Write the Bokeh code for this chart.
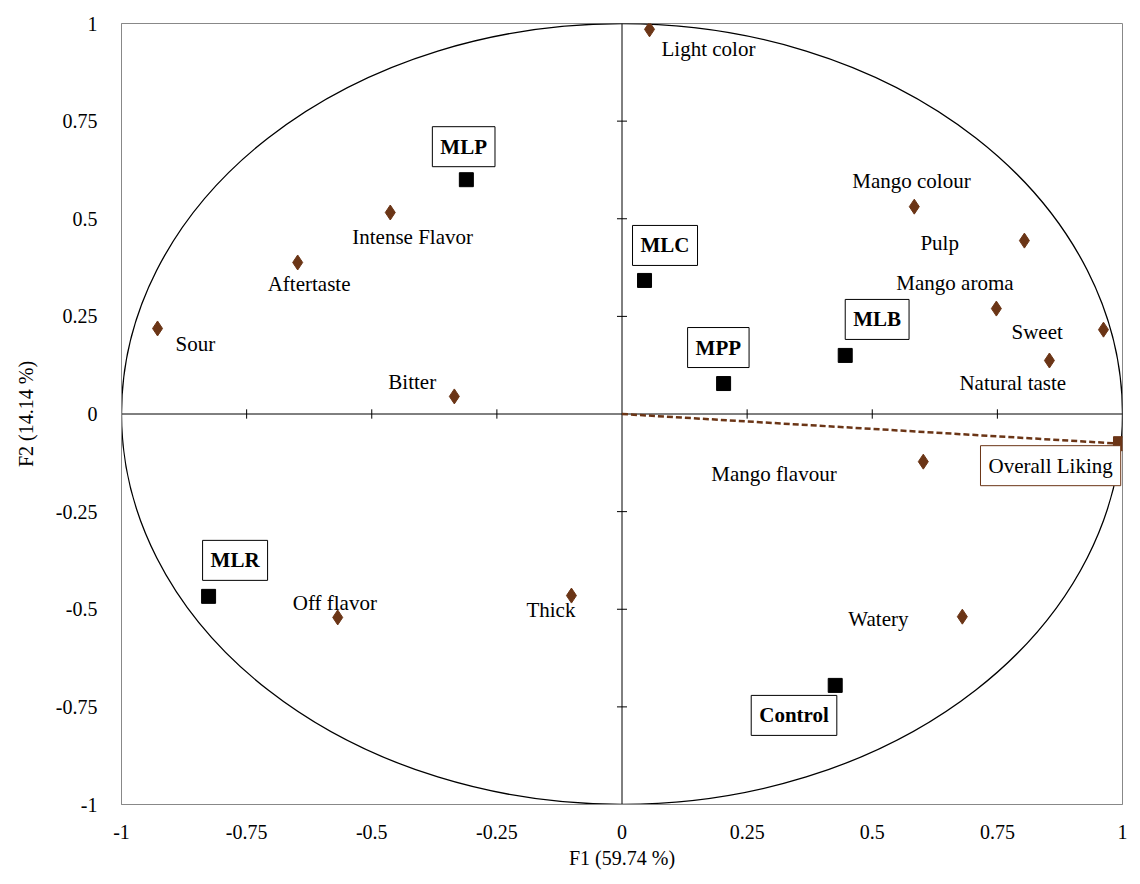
from bokeh.plotting import figure
from bokeh.models import Label, Range1d, FixedTicker
from bokeh.embed import file_html
from bokeh.resources import INLINE

# attribute loadings
attr_names = ["Light color", "Mango colour", "Pulp", "Mango aroma", "Sweet", "Natural taste",
              "Mango flavour", "Watery", "Thick", "Off flavor", "Bitter", "Sour",
              "Aftertaste", "Intense Flavor"]
attr_x = [0.055, 0.584, 0.804, 0.748, 0.962, 0.854, 0.602, 0.680, -0.101, -0.568, -0.335, -0.928, -0.648, -0.463]
attr_y = [0.985, 0.531, 0.444, 0.270, 0.216, 0.137, -0.122, -0.519, -0.465, -0.521, 0.045, 0.219, 0.388, 0.516]
# label offsets (px)
attr_dx = [12, -62, -104, -100, -92, -90, -212, -114, -45, -45, -66, 18, -30, -38]
attr_dy = [-32, 14, -14, 14, -14, -34, -24, -14, -26, 2, 2, -28, -34, -36]

liking_x = [0.996]
liking_y = [-0.076]

prod_names = ["MLP", "MLC", "MPP", "MLB", "Control", "MLR"]
prod_x = [-0.311, 0.045, 0.203, 0.446, 0.426, -0.826]
prod_y = [0.600, 0.342, 0.078, 0.150, -0.695, -0.467]
prod_dx = [-34, -12, -36, 0, -84, -6]
prod_dy = [13, 15, 16, 16, -50, 16]

ticks = [-1, -0.75, -0.5, -0.25, 0, 0.25, 0.5, 0.75, 1]
tick_labels = {t: ("%g" % t) for t in ticks}

brown = "#6B3516"
font = "Liberation Serif"

p = figure(width=1132, height=876, output_backend="svg", toolbar_location=None,
           x_range=Range1d(-1, 1), y_range=Range1d(-1, 1),
           min_border_left=121, min_border_right=10, min_border_top=23, min_border_bottom=72)
p.grid.visible = False
p.outline_line_color = "#888888"
for ax in (p.xaxis, p.yaxis):
    ax.ticker = FixedTicker(ticks=ticks)
    ax.major_label_overrides = tick_labels
    ax.major_label_text_font = font
    ax.major_label_text_font_size = "20px"
    ax.major_label_text_color = "black"
    ax.axis_label_text_font = font
    ax.axis_label_text_font_size = "20px"
    ax.axis_label_text_font_style = "normal"
    ax.axis_label_text_color = "black"
    ax.axis_line_color = "#888888"
    ax.major_tick_line_color = None
    ax.minor_tick_line_color = None
p.xaxis.axis_label = "F1 (59.74 %)"
p.yaxis.axis_label = "F2 (14.14 %)"
p.xaxis.major_label_standoff = 14
p.yaxis.major_label_standoff = 18
p.yaxis.axis_label_standoff = 16

# circle of correlations
p.ellipse(x=0, y=0, width=2, height=2, fill_color=None, line_color="black", line_width=1.3)
# central axes with ticks
p.segment(x0=[-1, 0], y0=[0, -1], x1=[1, 0], y1=[0, 1], line_color="black", line_width=1)
inner = [t for t in ticks if t not in (-1, 0, 1)]
p.segment(x0=inner, y0=[-0.012] * len(inner), x1=inner, y1=[0.012] * len(inner), line_color="black")
p.segment(x0=[-0.01] * len(inner), y0=inner, x1=[0.01] * len(inner), y1=inner, line_color="black")

p.line([0, liking_x[0]], [0, liking_y[0]], line_color=brown, line_dash="6 3", line_width=2.5)

p.scatter(attr_x, attr_y, marker="diamond", size=15, color=brown)
p.scatter(liking_x, liking_y, marker="square", size=14, color=brown)
p.scatter(prod_x, prod_y, marker="square", size=14, color="black")

for n, x, y, dx, dy in zip(attr_names, attr_x, attr_y, attr_dx, attr_dy):
    p.add_layout(Label(x=x, y=y, x_offset=dx, y_offset=dy, text=n, text_font=font,
                       text_font_size="21px", text_color="black"))

p.add_layout(Label(x=liking_x[0], y=liking_y[0], x_offset=-140, y_offset=-42, text="Overall Liking",
                   text_font=font, text_font_size="21px", text_color="black", border_line_color=brown,
                   background_fill_color="white", padding=8))

for n, x, y, dx, dy in zip(prod_names, prod_x, prod_y, prod_dx, prod_dy):
    p.add_layout(Label(x=x, y=y, x_offset=dx, y_offset=dy, text=n, text_font=font,
                       text_font_size="21px", text_font_style="bold", text_color="black",
                       border_line_color="black", background_fill_color="white", padding=8))

open("out.html", "w").write(file_html(p, INLINE))
